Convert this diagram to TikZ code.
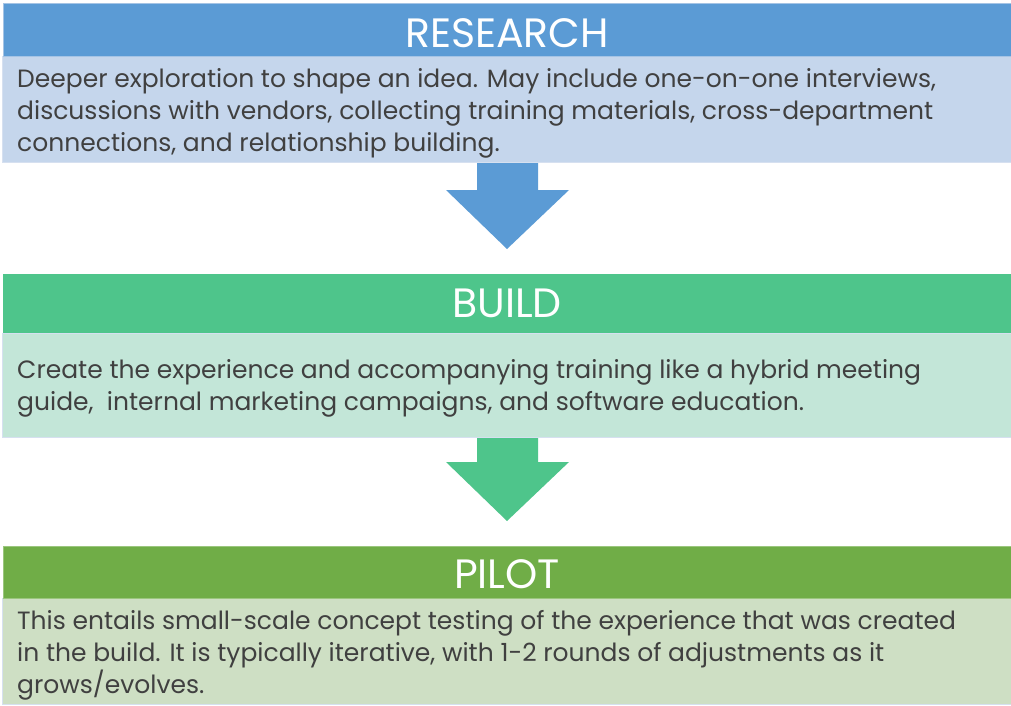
\documentclass[tikz,border=0pt]{standalone}
\usepackage{fontspec}
\setmainfont{Poppins}
\definecolor{hblue}{HTML}{5B9BD5}
\definecolor{bblue}{HTML}{C5D6EC}
\definecolor{hgreen}{HTML}{4EC58B}
\definecolor{bgreen}{HTML}{C3E6D8}
\definecolor{holive}{HTML}{70AD47}
\definecolor{bolive}{HTML}{CEDFC4}
\definecolor{txt}{HTML}{404040}
\definecolor{edge}{HTML}{D6E0F0}
\tikzset{
  title/.style={text=white, font=\fontsize{41}{48}\selectfont, inner sep=0pt, anchor=base},
  body/.style={text=txt, font=\fontsize{25}{32}\selectfont, align=left, inner sep=0pt, anchor=base west},
}
\begin{document}
\begin{tikzpicture}[x=1pt,y=-1pt]
\useasboundingbox[fill=white] (0,0) rectangle (1011,706);
% RESEARCH
\fill[bblue, draw=edge, line width=0.8pt] (2,56) rectangle (1011,162);
\fill[hblue, draw=edge!60!hblue, line width=0.6pt] (3,3) rectangle (1011,56);
\node[title] (t1) at (507,48) {RESEARCH};
\node[body] (b1) at (17,151) {Deeper exploration to shape an idea. May include one-on-one interviews,\\discussions with vendors, collecting training materials, cross-department\\connections, and relationship building.};
% arrow 1
\fill[hblue] (477,163) -- (538,163) -- (538,190) -- (569,190) -- (507,249) -- (446,190) -- (477,190) -- cycle;
% BUILD
\fill[bgreen, draw=edge, line width=0.8pt] (2,333) rectangle (1011,437);
\fill[hgreen] (3,274) rectangle (1011,333);
\node[title] (t2) at (507,317) {BUILD};
\node[body] (b2) at (17,410) {Create the experience and accompanying training like a hybrid meeting\\guide,\ \ internal marketing campaigns, and software education.};
% arrow 2
\fill[hgreen] (477,438) -- (538,438) -- (538,462) -- (569,462) -- (507,521) -- (446,462) -- (477,462) -- cycle;
% PILOT
\fill[bolive, draw=edge, line width=0.8pt] (2,598) rectangle (1011,704);
\fill[holive, draw=holive!70!white, line width=0.6pt] (3,546) rectangle (1011,598);
\node[title] (t3) at (507,588) {PILOT};
\node[body] (b3) at (17,693) {This entails small-scale concept testing of the experience that was created\\in the build. It is typically iterative, with 1-2 rounds of adjustments as it\\grows/evolves.};
\end{tikzpicture}
\end{document}
